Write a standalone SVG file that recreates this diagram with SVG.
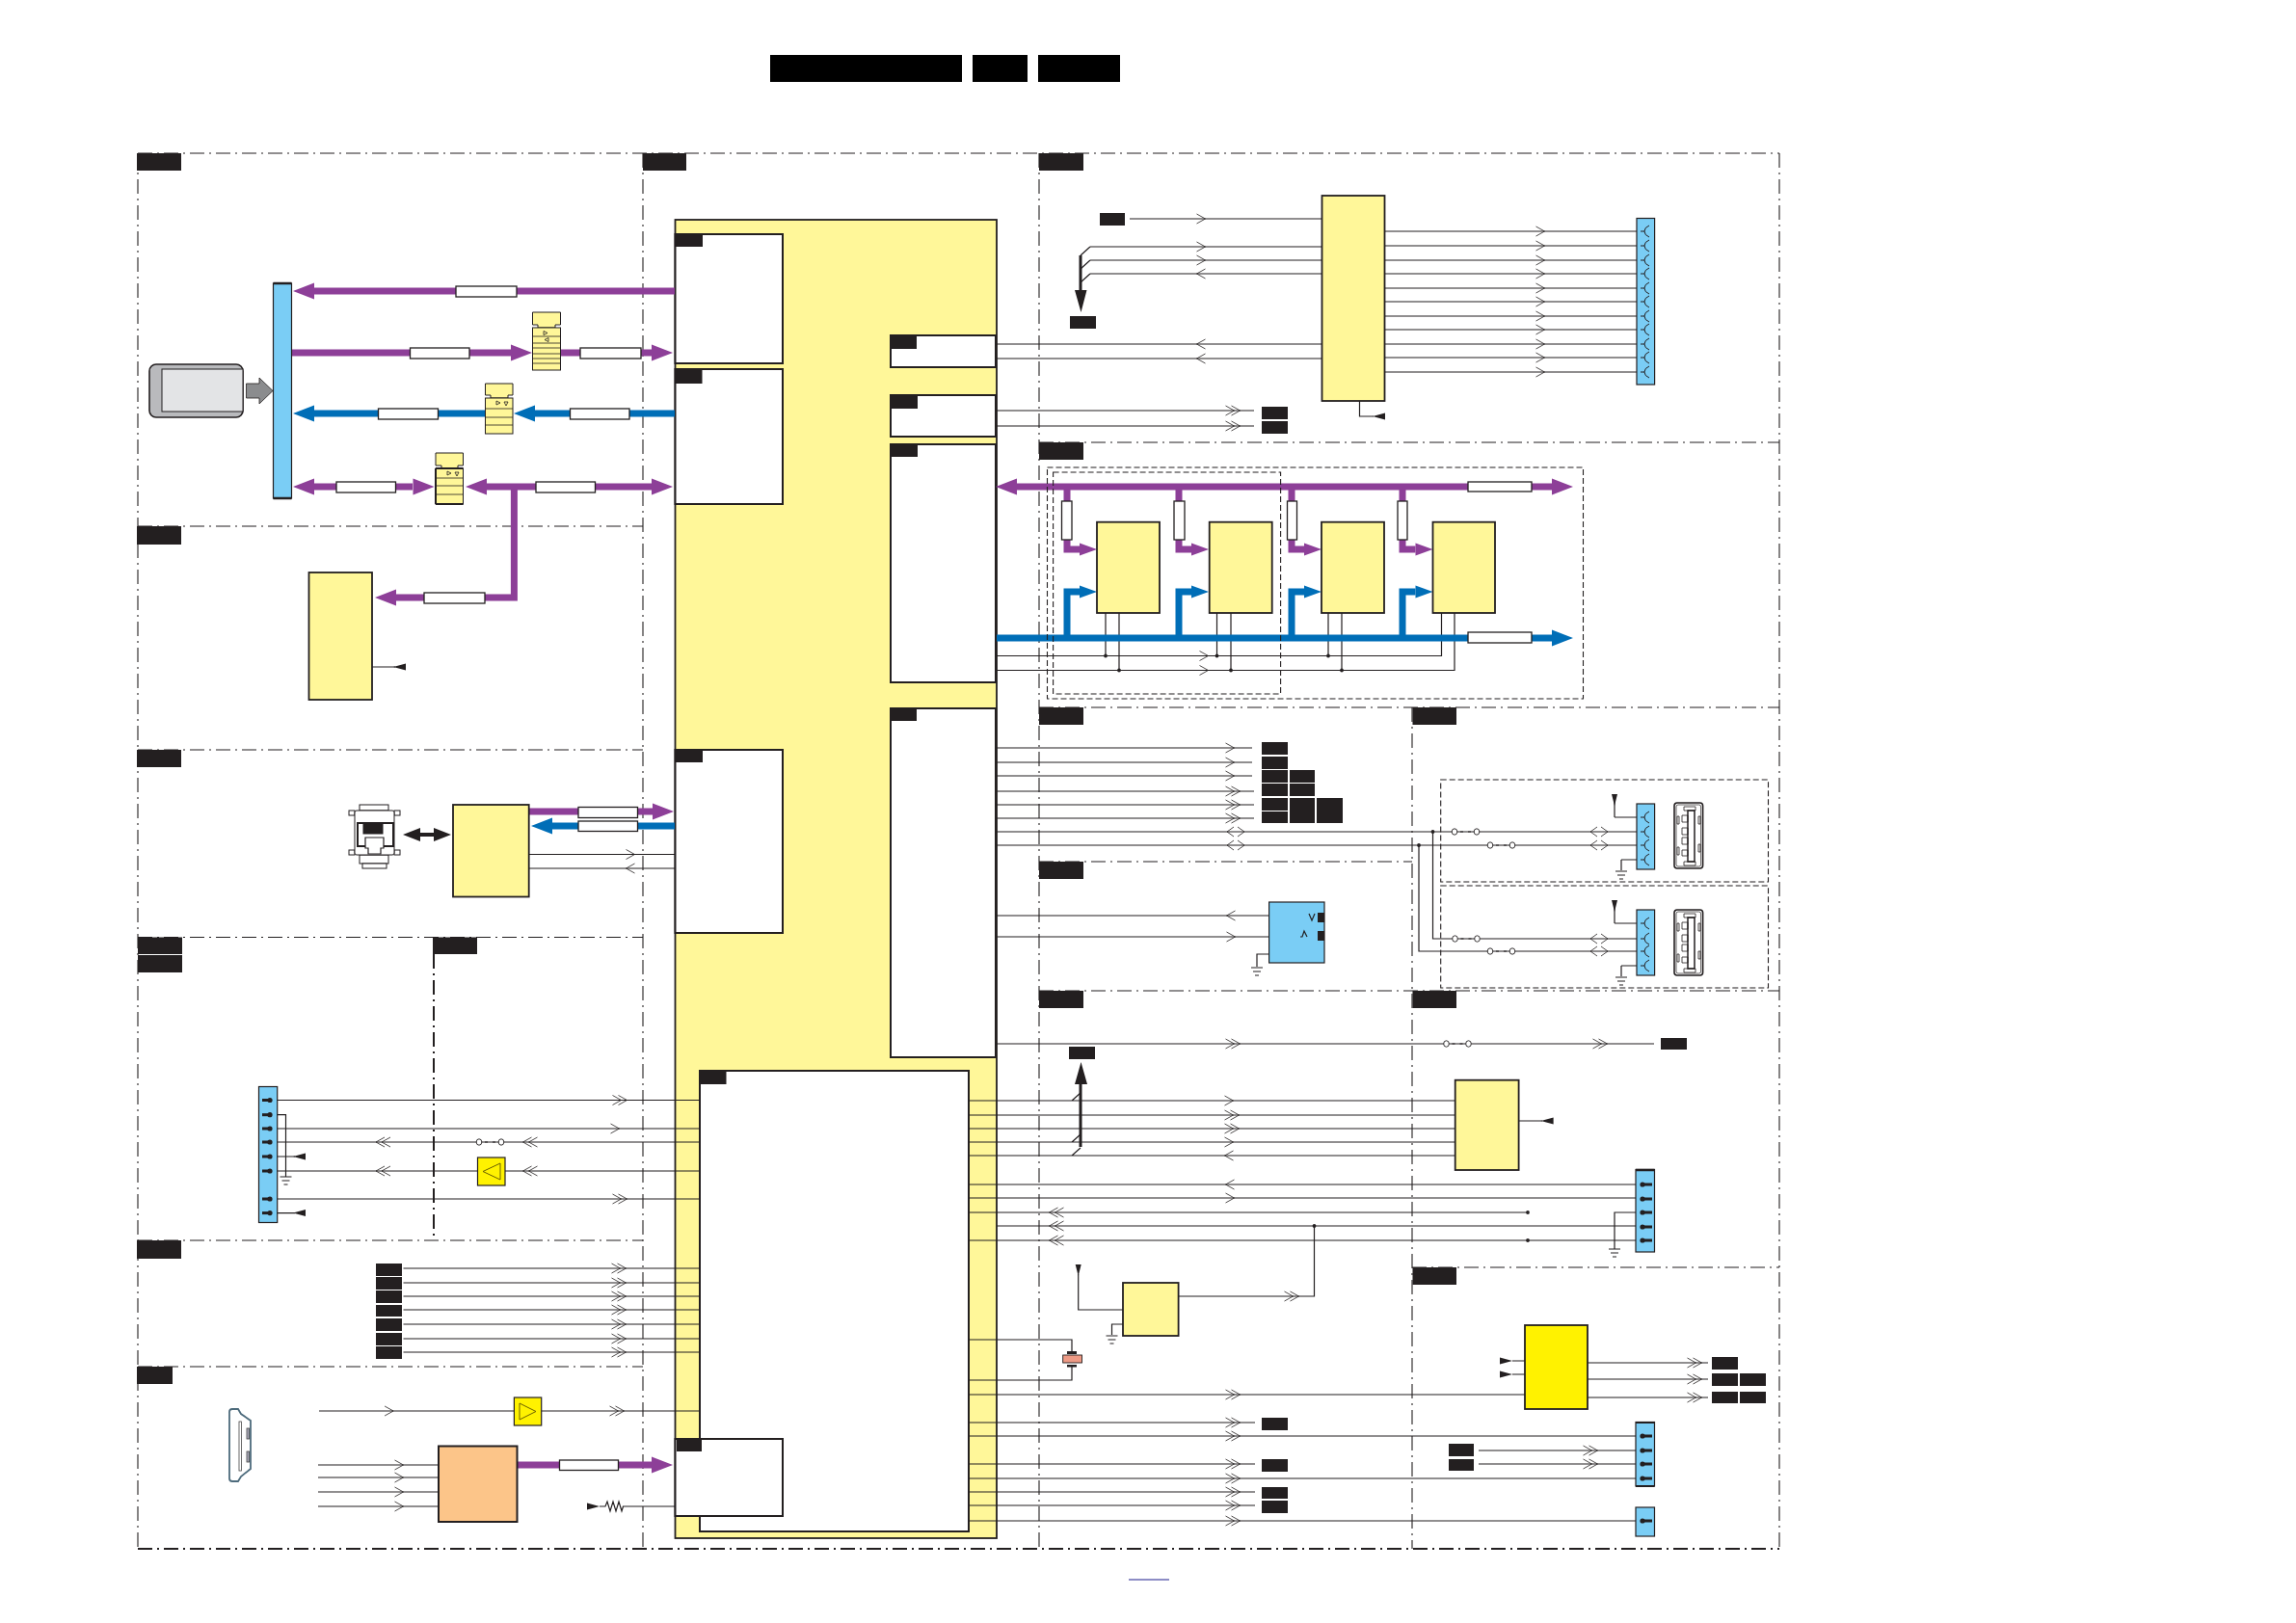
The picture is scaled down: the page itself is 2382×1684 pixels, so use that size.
<svg xmlns="http://www.w3.org/2000/svg" xmlns:xlink="http://www.w3.org/1999/xlink" width="2382" height="1684" viewBox="0 0 2382 1684">
<style>
.k{fill:#231f20}
.t{fill:#000}
.f{fill:none;stroke:#231f20;stroke-width:1.1;stroke-dasharray:15 5 2 5}
.d{fill:none;stroke:#231f20;stroke-width:1.1;stroke-dasharray:6 3}
.w{fill:#fff;stroke:#231f20;stroke-width:1.3}
.wb{fill:#fff;stroke:#231f20;stroke-width:2}
.y{fill:#fff799;stroke:#231f20;stroke-width:1.8}
.ys{fill:#fff799;stroke:#231f20;stroke-width:1}
.yy{fill:#fff200;stroke:#231f20;stroke-width:1.8}
.c{fill:#7acdf5;stroke:#231f20;stroke-width:1.2}
.l{fill:none;stroke:#231f20;stroke-width:1.2}
.n{fill:none;stroke:#231f20;stroke-width:.8}
.p{fill:none;stroke:#8d3f98;stroke-width:7}
.b{fill:none;stroke:#006eb7;stroke-width:7}
.pf{fill:#8d3f98}
.bf{fill:#006eb7}
.o{fill:#fff;stroke:#231f20;stroke-width:.9}
</style>
<defs>
<polyline id="cr" class="n" points="-4.5,-5 4.5,0 -4.5,5"/>
<polyline id="cl" class="n" points="4.5,-5 -4.5,0 4.5,5"/>
<g id="ccr"><use href="#cr" x="-3"/><use href="#cr" x="3"/></g>
<g id="ccl"><use href="#cl" x="-3"/><use href="#cl" x="3"/></g>
<path id="dia" class="n" d="M-2-5-9 0-2 5M2-5 9 0 2 5"/>
<polygon id="pR" class="pf" points="0,-8.5 22,0 0,8.5"/>
<polygon id="pL" class="pf" points="0,-8.5 -22,0 0,8.5"/>
<polygon id="bR" class="bf" points="0,-8.5 22,0 0,8.5"/>
<polygon id="bL" class="bf" points="0,-8.5 -22,0 0,8.5"/>
<polygon id="psR" class="pf" points="0,-6.5 18,0 0,6.5"/>
<polygon id="bsR" class="bf" points="0,-6.5 18,0 0,6.5"/>
<path id="fork" class="n" d="M-6 0H-2M3-6Q-2-4-2 0Q-2 4 3 6" style="stroke-width:1"/>
<g id="pinL"><rect class="k" x="272" y="-1.5" width="8" height="3"/><circle class="k" cx="280" cy="0" r="2.6"/></g>
<g id="pinR"><rect class="k" x="1704" y="-1.5" width="10" height="3"/><circle class="k" cx="1704" cy="0" r="2.6"/></g>
<path id="gnd" class="n" d="M-6 0H6M-4 4H4M-2 8H2" style="stroke-width:1"/>
<polygon id="tL" class="k" points="0,0 13,-3.5 13,3.5"/>
<polygon id="tR" class="k" points="0,-3.5 13,0 0,3.5"/>
<polygon id="tD" class="k" points="-3,0 3,0 0,12"/>
<circle id="dot" class="k" r="1.9"/>
<g id="brk"><ellipse class="o" cx="0" cy="0" rx="2.8" ry="3.2"/><ellipse class="o" cx="23" cy="0" rx="2.8" ry="3.2"/><path class="n" d="M6 0H9M14 0H17" style="stroke-width:1"/></g>
<g id="usb">
<rect x="0" y="0" width="29.6" height="68" rx="3" fill="#fff" stroke="#231f20" stroke-width="1.6"/>
<rect x="2" y="2" width="25.6" height="64" rx="2" fill="none" stroke="#231f20" stroke-width=".7"/>
<rect x="14" y="8" width="7" height="53" fill="#fff" stroke="#231f20" stroke-width="1.5"/>
<path class="n" d="M8 13h6v7h-6zM8 26h6v7h-6zM8 36h6v7h-6zM8 49h6v6h-6zM10 4h12v4h-12zM10 61h12v4h-12zM3 14h2v8h-2zM3 46h2v8h-2zM25 14h2v8h-2zM25 43h2v8h-2z"/>
</g>
</defs>

<g id="title">
<rect class="t" x="799" y="57" width="199" height="28"/>
<rect class="t" x="1009" y="57" width="57" height="28"/>
<rect class="t" x="1077" y="57" width="85" height="28"/>
</g>

<g id="frames">
<path class="f" d="M143 159H1846M143 546H667M143 778H667M143 972.5H667M143 1287H667M143 1418H667M1078 459H1846M1078 734H1846M1078 894H1465M1078 1028H1846M1465 1315H1846"/>
<path class="f" d="M143 159V1607M667 159V1607M1078 159V1607M1465 734V1607M1846 159V1607"/>
<path class="f" style="stroke-width:2" d="M143 1607H1846M450 990V1287"/>
</g>

<g id="main-block">
<rect class="y" x="700.5" y="228" width="333.5" height="1368"/>
<rect class="wb" x="700.5" y="243" width="111.5" height="134"/>
<rect class="wb" x="700.5" y="383" width="111.5" height="140"/>
<rect class="wb" x="700.5" y="778" width="111.5" height="190"/>
<rect class="wb" x="924" y="348" width="109" height="33"/>
<rect class="wb" x="924" y="410" width="109" height="43"/>
<rect class="wb" x="924" y="461" width="109" height="247"/>
<rect class="wb" x="924" y="735" width="109" height="362"/>
<rect class="wb" x="726" y="1111" width="279" height="478"/>
<rect class="wb" x="700.5" y="1493" width="111.5" height="80"/>
</g>

<g id="section-labels" class="k">
<rect x="142" y="159" width="46" height="18"/>
<rect x="667" y="159" width="45" height="18"/>
<rect x="1078" y="159" width="46" height="18"/>
<rect x="142" y="546" width="46" height="19"/>
<rect x="142" y="778" width="46" height="18"/>
<rect x="143" y="972.5" width="46" height="17.5"/>
<rect x="143" y="991" width="46" height="18"/>
<rect x="449" y="972.5" width="46" height="17.5"/>
<rect x="142" y="1287" width="46" height="19"/>
<rect x="142" y="1418" width="37" height="18"/>
<rect x="1078" y="459" width="46" height="18"/>
<rect x="1078" y="734" width="46" height="18"/>
<rect x="1465.5" y="734" width="45.5" height="18"/>
<rect x="1078" y="894" width="46" height="18"/>
<rect x="1078" y="1028" width="46" height="18"/>
<rect x="1465.5" y="1028" width="45.5" height="18"/>
<rect x="1465.5" y="1315" width="45.5" height="18"/>
<rect x="700.5" y="242" width="28.5" height="14"/>
<rect x="700.5" y="383" width="28" height="15"/>
<rect x="701" y="778" width="28" height="13"/>
<rect x="924" y="348" width="27" height="14"/>
<rect x="924" y="410" width="28" height="14"/>
<rect x="924" y="461" width="28" height="13"/>
<rect x="924" y="735" width="27" height="13"/>
<rect x="726" y="1111" width="27.5" height="14"/>
<rect x="702" y="1494" width="26" height="12"/>
</g>

<g id="connectors">
<g id="thin-lines">
<path class="l" d="M1172 227H1371M1131 256H1371M1131 270H1371M1131 284H1371M1131 256L1121 265M1131 270L1121 279M1131 284L1121 293M1034 357H1371M1034 372H1371"/>
<path class="l" d="M1436 240H1698M1436 255H1698M1436 270H1698M1436 284H1698M1436 299H1698M1436 313H1698M1436 328H1698M1436 342H1698M1436 357H1698M1436 371H1698M1436 386H1698M1410.5 416V432H1425"/>
<path class="l" d="M1034 426H1301M1034 442H1301"/>
<path class="l" d="M1034 680.5H1495.5V636M1034 695.5H1509V636M1147 636V680.5M1161 636V695.5M1262.5 636V680.5M1277 636V695.5M1378 636V680.5M1392 636V695.5"/>
<path class="l" d="M1034 776H1299M1034 791H1299M1034 805H1299M1034 821H1301M1034 835H1301M1034 849H1301"/>
<path class="l" d="M1034 863H1698M1034 877H1698M1486.5 863V974H1698M1472 877V987H1698M1675 848H1698M1675 848V824M1682 892H1698M1682 892V903M1675 958H1698M1675 958V936M1682 1002H1698M1682 1002V1013"/>
<path class="l" d="M1034 950H1359M1034 972H1349M1372 976V990H1304V1003"/>
<path class="l" d="M1034 1083H1716M1005 1142H1509.5M1005 1157H1509.5M1005 1171H1509.5M1005 1185H1509.5M1005 1199H1509.5M1112 1142L1121 1134M1112 1185L1121 1177M1112 1199L1121 1191M1575.5 1163H1600"/>
<path class="l" d="M1005 1229H1697M1005 1243H1697M1005 1258H1585M1034 1272H1697M1005 1287H1697M1363.5 1272V1345H1222.5M1697 1258H1675V1296"/>
<path class="l" d="M1118.7 1322V1359H1165M1165 1374H1153.5V1385"/>
<path class="l" d="M1005 1390H1112V1402M1112 1418V1432H1005M1005 1447H1582M1569 1412H1582M1569 1426H1582M1647 1414H1772M1647 1431H1772M1647 1450H1772"/>
<path class="l" d="M1005 1476H1302M1005 1490H1697M1005 1519H1302M1005 1534H1697M1005 1548H1302M1005 1562H1302M1005 1578H1697M1534 1505H1697M1534 1519H1697"/>
<path class="l" d="M549 886.5H700M549 901H700"/>
<path class="l" d="M281 1141.5H726M287 1171H726M287 1185H726M287 1215H495.5M524 1215H726M287 1244H726M287 1156.7H296.5V1221M287 1200H306M287 1258.6H306"/>
<path class="l" d="M418.5 1316H726M418.5 1331H726M418.5 1345H726M418.5 1359H726M418.5 1374H726M418.5 1389H726M418.5 1403H726"/>
<path class="l" d="M331 1464H533M562 1464H726M330 1520H455M330 1533H455M330 1548H455M330 1563H455M646 1563H700.5M386 692H410"/>
<path class="l" d="M622 1563H628L630 1558 633 1568 636 1558 639 1568 642 1558 645 1568 646.5 1563"/>
</g>
<g id="thin-marks">
<use href="#cr" x="1246" y="227"/><use href="#cr" x="1246" y="256"/><use href="#cr" x="1246" y="270"/><use href="#cl" x="1246" y="284"/><use href="#cl" x="1246" y="357"/><use href="#cl" x="1246" y="372"/>
<use href="#cr" x="1598" y="240"/><use href="#cr" x="1598" y="255"/><use href="#cr" x="1598" y="270"/><use href="#cr" x="1598" y="284"/><use href="#cr" x="1598" y="299"/><use href="#cr" x="1598" y="313"/><use href="#cr" x="1598" y="328"/><use href="#cr" x="1598" y="342"/><use href="#cr" x="1598" y="357"/><use href="#cr" x="1598" y="371"/><use href="#cr" x="1598" y="386"/>
<use href="#ccr" x="1279" y="426"/><use href="#ccr" x="1279" y="442"/>
<use href="#cr" x="1249" y="680.5"/><use href="#cr" x="1249" y="695.5"/>
<use href="#dot" x="1147" y="680.5"/><use href="#dot" x="1161" y="695.5"/><use href="#dot" x="1262.5" y="680.5"/><use href="#dot" x="1277" y="695.5"/><use href="#dot" x="1378" y="680.5"/><use href="#dot" x="1392" y="695.5"/>
<use href="#cr" x="1276" y="776"/><use href="#cr" x="1276" y="791"/><use href="#cr" x="1276" y="805"/><use href="#ccr" x="1279" y="821"/><use href="#ccr" x="1279" y="835"/><use href="#ccr" x="1279" y="849"/>
<use href="#dia" x="1282" y="863"/><use href="#dia" x="1282" y="877"/><use href="#dia" x="1659" y="863"/><use href="#dia" x="1659" y="877"/><use href="#dia" x="1659" y="974"/><use href="#dia" x="1659" y="987"/>
<use href="#dot" x="1486.5" y="863"/><use href="#dot" x="1472" y="877"/>
<use href="#brk" x="1509" y="863"/><use href="#brk" x="1546" y="877"/><use href="#brk" x="1509.5" y="974"/><use href="#brk" x="1546" y="987"/>
<use href="#cl" x="1277" y="950"/><use href="#cr" x="1277" y="972"/>
<use href="#ccr" x="1279" y="1083"/><use href="#ccr" x="1660" y="1083"/><use href="#brk" x="1500.5" y="1083"/>
<use href="#cr" x="1275" y="1142"/><use href="#ccr" x="1278" y="1157"/><use href="#ccr" x="1278" y="1171"/><use href="#cr" x="1275" y="1185"/><use href="#cl" x="1275" y="1199"/>
<use href="#cl" x="1276" y="1229"/><use href="#cr" x="1276" y="1243"/>
<use href="#ccl" x="1096" y="1258"/><use href="#ccl" x="1096" y="1272"/><use href="#ccl" x="1096" y="1287"/>
<use href="#dot" x="1585" y="1258"/><use href="#dot" x="1585" y="1287"/><use href="#dot" x="1363.5" y="1272"/>
<use href="#ccr" x="1340" y="1345"/><use href="#ccr" x="1279" y="1447"/>
<use href="#ccr" x="1758" y="1414"/><use href="#ccr" x="1758" y="1431"/><use href="#ccr" x="1758" y="1450"/>
<use href="#ccr" x="1279" y="1476"/><use href="#ccr" x="1279" y="1490"/><use href="#ccr" x="1279" y="1519"/><use href="#ccr" x="1279" y="1534"/><use href="#ccr" x="1279" y="1548"/><use href="#ccr" x="1279" y="1562"/><use href="#ccr" x="1279" y="1578"/>
<use href="#ccr" x="1650" y="1505"/><use href="#ccr" x="1650" y="1519"/>
<use href="#cr" x="654" y="886.5"/><use href="#cl" x="654" y="901"/>
<use href="#ccr" x="643" y="1141.5"/><use href="#cr" x="638" y="1171"/><use href="#ccl" x="397.5" y="1185"/><use href="#ccl" x="550" y="1185"/><use href="#brk" x="497" y="1185"/>
<use href="#ccl" x="397.5" y="1215"/><use href="#ccl" x="550" y="1215"/><use href="#ccr" x="643" y="1244"/>
<use href="#ccr" x="642" y="1316"/><use href="#ccr" x="642" y="1331"/><use href="#ccr" x="642" y="1345"/><use href="#ccr" x="642" y="1359"/><use href="#ccr" x="642" y="1374"/><use href="#ccr" x="642" y="1389"/><use href="#ccr" x="642" y="1403"/>
<use href="#cr" x="403.6" y="1464"/><use href="#ccr" x="640" y="1464"/>
<use href="#cr" x="414" y="1520"/><use href="#cr" x="414" y="1533"/><use href="#cr" x="414" y="1548"/><use href="#cr" x="414" y="1563"/>
<use href="#gnd" x="296.5" y="1221"/><use href="#gnd" x="1682" y="904"/><use href="#gnd" x="1682" y="1014"/><use href="#gnd" x="1304" y="1004"/><use href="#gnd" x="1675" y="1296"/><use href="#gnd" x="1153.5" y="1386"/>
<use href="#tL" x="304" y="1200"/><use href="#tL" x="304" y="1258.6"/><use href="#tL" x="408" y="692"/><use href="#tL" x="1424" y="432"/><use href="#tL" x="1598.6" y="1163"/>
<use href="#tR" x="1556" y="1412"/><use href="#tR" x="1556" y="1426"/><use href="#tR" x="609" y="1563"/>
<use href="#tD" x="1675" y="824"/><use href="#tD" x="1675" y="934"/><use href="#tD" x="1118.7" y="1312"/>
</g>
<g id="fat-arrows">
<path class="k" d="M1119.5 265h3V301h-3zM1115 301h12.5l-6 23zM1119.5 1125h3V1190h-3zM1115 1125h13l-6.5-23z"/>
<polygon class="k" points="418,866 436,859 436,864 450,864 450,859 468,866 450,873 450,868 436,868 436,873"/>
<polygon fill="#8b8c8e" stroke="#231f20" stroke-width=".8" points="255.5,398 269,398 269,392 283,405.5 269,419 269,413 255.5,413"/>
</g>
<g id="buses">
<path class="p" d="M326 302H700M302 366H530M581 366H676M326 505H428M505 505H676M533.4 505V620H408"/>
<use href="#pL" x="326" y="302"/><use href="#pR" x="530" y="366"/><use href="#pR" x="676" y="366"/><use href="#pL" x="326" y="505"/><use href="#pR" x="428.5" y="505"/><use href="#pL" x="505" y="505"/><use href="#pR" x="676" y="505"/><use href="#pL" x="411" y="620"/>
<path class="b" d="M326 429H504M555 429H700"/>
<use href="#bL" x="326" y="429"/><use href="#bL" x="555" y="429"/>
<path class="p" d="M1052 505H1612M1107 505V570H1120M1223 505V570H1236.500M1340 505V570H1353M1455 505V570H1468.500"/>
<use href="#pL" x="1055" y="505"/><use href="#pR" x="1610" y="505"/>
<use href="#psR" x="1120" y="570"/><use href="#psR" x="1236" y="570"/><use href="#psR" x="1353" y="570"/><use href="#psR" x="1468.500" y="570"/>
<path class="b" d="M1034 662H1612M1107 662V614H1120M1223 662V614H1236.500M1340 662V614H1353M1455 662V614H1468.500"/>
<use href="#bR" x="1610" y="662"/>
<use href="#bsR" x="1120" y="614"/><use href="#bsR" x="1236" y="614"/><use href="#bsR" x="1353" y="614"/><use href="#bsR" x="1468.500" y="614"/>
<path class="p" d="M549 842H677M536 1520H676"/>
<use href="#pR" x="677" y="842"/><use href="#pR" x="676" y="1520"/>
<path class="b" d="M573 857H700"/>
<use href="#bL" x="573" y="857"/>
</g>
<g id="bus-tags">
<rect class="w" x="473" y="297" width="63" height="11"/>
<rect class="w" x="425.500" y="361" width="61.500" height="11"/>
<rect class="w" x="602" y="361" width="63" height="11"/>
<rect class="w" x="392.500" y="424" width="62" height="11"/>
<rect class="w" x="591.500" y="424" width="61.500" height="11"/>
<rect class="w" x="349" y="500" width="61.500" height="11"/>
<rect class="w" x="556" y="500" width="61.500" height="11"/>
<rect class="w" x="440" y="615" width="63" height="11"/>
<rect class="w" x="1523" y="500" width="66" height="10"/>
<rect class="w" x="1523" y="656" width="66" height="11"/>
<rect class="w" x="1101.500" y="520" width="10.500" height="40"/>
<rect class="w" x="1218" y="520" width="11" height="40"/>
<rect class="w" x="1335.500" y="520" width="10" height="40"/>
<rect class="w" x="1450" y="520" width="10" height="40"/>
<rect class="w" x="600" y="837.500" width="61.500" height="11"/>
<rect class="w" x="600" y="852" width="61.500" height="10.500"/>
<rect class="w" x="580.500" y="1515" width="61" height="10.500"/>
</g>
<g id="signal-tags" class="k">
<rect x="1141" y="221" width="26" height="13"/>
<rect x="1110" y="328" width="27" height="13"/>
<rect x="1309" y="422" width="27" height="13"/>
<rect x="1309" y="437" width="27" height="13"/>
<rect x="1309" y="770" width="27" height="13"/>
<rect x="1309" y="785" width="27" height="13"/>
<rect x="1309" y="799" width="27" height="13"/>
<rect x="1338" y="799" width="26" height="13"/>
<rect x="1309" y="813" width="27" height="13"/>
<rect x="1338" y="813" width="26" height="13"/>
<rect x="1309" y="828" width="27" height="13"/>
<rect x="1309" y="842" width="27" height="12"/>
<rect x="1338" y="828" width="26" height="26"/>
<rect x="1366" y="828" width="27" height="26"/>
<rect x="1723" y="1077" width="27" height="12"/>
<rect x="1109" y="1086" width="27" height="13"/>
<rect x="1776" y="1408" width="27" height="13"/>
<rect x="1776" y="1425" width="27" height="13"/>
<rect x="1805" y="1425" width="27" height="13"/>
<rect x="1776" y="1444" width="27" height="12"/>
<rect x="1805" y="1444" width="27" height="12"/>
<rect x="1309" y="1471" width="27" height="13"/>
<rect x="1309" y="1514" width="27" height="13"/>
<rect x="1309" y="1543" width="27" height="12"/>
<rect x="1309" y="1557" width="27" height="13"/>
<rect x="1503" y="1498" width="26" height="13"/>
<rect x="1503" y="1514" width="26" height="12"/>
<rect x="390" y="1311" width="27" height="13"/>
<rect x="390" y="1325" width="27" height="13"/>
<rect x="390" y="1339" width="27" height="13"/>
<rect x="390" y="1354" width="27" height="12"/>
<rect x="390" y="1368" width="27" height="13"/>
<rect x="390" y="1383" width="27" height="13"/>
<rect x="390" y="1397" width="27" height="13"/>
</g>
</g>

<g id="memory-card">
<rect x="155" y="378" width="97" height="55" rx="7" fill="#b9babd" stroke="#231f20" stroke-width="1.6"/>
<rect x="168" y="383" width="84" height="44" fill="#e3e4e6" stroke="#231f20" stroke-width="1"/>
</g>
<g id="card-connector">
<rect class="c" x="283.500" y="294" width="19" height="223"/>
<path class="l" style="stroke-width:2.5" d="M283.500 294H302.500M283.500 517H302.500"/>
</g>
<g id="latch-a">
<path class="ys" d="M552.500 324H581.500V337H576V340H558V337H552.500Z"/>
<rect class="ys" x="552.500" y="340" width="29" height="44"/>
<path class="n" d="M552.500 349H581.500M552.500 356H581.500M552.500 361H581.500M552.500 367H581.500M552.500 372H581.500M552.500 377H581.500M564 343.500L568 345.500 564 347.500ZM569 350.500L565 352.500 569 354.500Z"/>
</g>
<g id="latch-b">
<path class="ys" d="M503.500 398H532V410H527V413H509V410H503.500Z"/>
<rect class="ys" x="503.500" y="413" width="28.500" height="37"/>
<path class="n" d="M503.500 424H532M503.500 433H532M503.500 441H532M515 416L519 418 515 420ZM523 417L527 417 525 421Z"/>
</g>
<g id="latch-c">
<path class="ys" d="M452 470H480.500V483H475V486H458V483H452Z"/>
<rect class="ys" x="452" y="486" width="28.500" height="37"/>
<path class="n" d="M452 496H480.500M452 504H480.500M452 513H480.500M464 489L468 491 464 493ZM472 490L476 490 474 494Z"/>
<path class="l" style="stroke-width:2" d="M452 486H480.500M452 523H480.500M452 486V523"/>
</g>
<g id="sd-ic"><rect class="y" x="320.500" y="594" width="65.500" height="132"/></g>

<g id="rj45" fill="#fff" stroke="#231f20" stroke-width="1">
<rect x="373" y="835" width="30" height="6"/>
<rect x="373" y="887" width="30" height="9"/>
<rect x="376" y="896" width="25" height="5"/>
<rect x="362" y="841" width="6" height="5"/>
<rect x="409" y="841" width="6" height="5"/>
<rect x="362" y="882" width="6" height="5"/>
<rect x="409" y="882" width="6" height="5"/>
<rect x="368" y="841" width="41" height="46" rx="2"/>
<rect x="371" y="854" width="37" height="24" stroke-width="2"/>
<rect x="377" y="854" width="20" height="11" fill="#231f20"/>
<path d="M379 869H398V880H395V886H382V880H379Z" stroke-width="1.2"/>
</g>
<g id="eth-ic"><rect class="y" x="470" y="835" width="78.700" height="95.500"/></g>

<g id="panel-connector"><rect class="c" x="268.500" y="1127.500" width="19.200" height="141"/>
<use href="#pinL" y="1141.500"/><use href="#pinL" y="1156.700"/><use href="#pinL" y="1171"/><use href="#pinL" y="1185"/><use href="#pinL" y="1200"/><use href="#pinL" y="1215"/><use href="#pinL" y="1244"/><use href="#pinL" y="1258.600"/></g>
<g id="amp-a"><rect class="yy" style="stroke-width:1.2" x="495.500" y="1201" width="28.500" height="29"/><polygon points="519,1207 519,1224 501,1215.500" fill="none" stroke="#6b6000" stroke-width="1"/></g>
<g id="amp-b"><rect class="yy" style="stroke-width:1.2" x="533.400" y="1450" width="28.300" height="29"/><polygon points="539,1456 539,1473 556,1464.500" fill="none" stroke="#6b6000" stroke-width="1"/></g>
<g id="hdmi">
<path d="M241 1462H247L250 1467 260 1474V1524L250 1532 247 1537H241Q238 1537 238 1534V1465Q238 1462 241 1462Z" fill="#fff" stroke="#4d6b7c" stroke-width="1.800"/>
<rect x="248" y="1475" width="2.500" height="51" fill="#fff" stroke="#444" stroke-width=".8"/>
<rect x="256" y="1482" width="2.600" height="11" fill="#aab" stroke="#444" stroke-width=".8"/>
<rect x="256" y="1506" width="2.600" height="11" fill="#aab" stroke="#444" stroke-width=".8"/>
</g>
<g id="hdmi-rx"><rect x="455" y="1500.500" width="81.500" height="78.500" fill="#fcc589" stroke="#231f20" stroke-width="2"/></g>

<g id="top-ic"><rect class="y" x="1371.500" y="203" width="65" height="213"/></g>
<g id="top-connector"><rect class="c" x="1698" y="226.500" width="18.600" height="172.500"/>
<use href="#fork" x="1708" y="240"/><use href="#fork" x="1708" y="255"/><use href="#fork" x="1708" y="270"/><use href="#fork" x="1708" y="284"/><use href="#fork" x="1708" y="299"/><use href="#fork" x="1708" y="313"/><use href="#fork" x="1708" y="328"/><use href="#fork" x="1708" y="342"/><use href="#fork" x="1708" y="357"/><use href="#fork" x="1708" y="371"/><use href="#fork" x="1708" y="386"/></g>

<g id="ddr-1"><rect class="y" x="1138" y="541.700" width="65" height="94.300"/></g>
<g id="ddr-2"><rect class="y" x="1254.700" y="541.700" width="65" height="94.300"/></g>
<g id="ddr-3"><rect class="y" x="1371" y="541.700" width="65" height="94.300"/></g>
<g id="ddr-4"><rect class="y" x="1486.500" y="541.700" width="64.500" height="94.300"/></g>
<g id="dashed-groups">
<rect class="d" x="1086.500" y="485" width="556" height="240"/>
<rect class="d" x="1092.600" y="490" width="236" height="230"/>
<rect class="d" x="1494.700" y="809" width="339.800" height="106"/>
<rect class="d" x="1494.700" y="919" width="339.800" height="106"/>
</g>

<g id="usb-a"><rect class="c" x="1698" y="834" width="18.600" height="68"/>
<use href="#fork" x="1708" y="848"/><use href="#fork" x="1708" y="863"/><use href="#fork" x="1708" y="877"/><use href="#fork" x="1708" y="892"/>
<use href="#usb" x="1737" y="833"/></g>
<g id="usb-b"><rect class="c" x="1698" y="944" width="18.600" height="68"/>
<use href="#fork" x="1708" y="958"/><use href="#fork" x="1708" y="974"/><use href="#fork" x="1708" y="987"/><use href="#fork" x="1708" y="1002"/>
<use href="#usb" x="1737" y="944"/></g>

<g id="ir-sensor"><rect class="c" x="1316.600" y="936" width="57.400" height="63"/>
<rect class="k" x="1367" y="947" width="7" height="10"/><rect class="k" x="1367" y="966" width="7" height="10"/>
<path class="l" d="M1358 948L1361 955 1364 948M1349 972H1351L1353 966 1356 972"/></g>

<g id="power-ic"><rect class="y" x="1509.700" y="1120.700" width="65.900" height="93.300"/></g>
<g id="side-connector"><rect class="c" x="1697" y="1213.500" width="19.500" height="85.500"/><path class="l" style="stroke-width:2.500" d="M1697 1214H1716.500"/>
<use href="#pinR" y="1229"/><use href="#pinR" y="1244"/><use href="#pinR" y="1258"/><use href="#pinR" y="1273"/><use href="#pinR" y="1287"/></g>
<g id="clock-ic"><rect class="y" x="1165" y="1331" width="57.600" height="55"/></g>
<g id="crystal">
<rect class="k" x="1107" y="1402" width="10" height="3"/>
<rect x="1102.700" y="1406" width="19.800" height="8" fill="#ee9a85" stroke="#231f20" stroke-width=".9"/>
<rect class="k" x="1107" y="1416" width="10" height="2.500"/>
</g>
<g id="driver-ic"><rect class="yy" x="1582" y="1375" width="65" height="87"/></g>
<g id="lower-connector"><rect class="c" x="1697" y="1475.500" width="19.500" height="66.500"/><path class="l" style="stroke-width:2.200" d="M1697 1476H1716.500M1697 1542H1716.500"/>
<use href="#pinR" y="1490"/><use href="#pinR" y="1505"/><use href="#pinR" y="1519"/><use href="#pinR" y="1534"/></g>
<g id="single-connector"><rect class="c" x="1697" y="1564" width="19.500" height="30"/><use href="#pinR" y="1578"/></g>
<path id="footer-rule" d="M1171 1639H1213" stroke="#1a1a8c" stroke-width="1"/>
</svg>
